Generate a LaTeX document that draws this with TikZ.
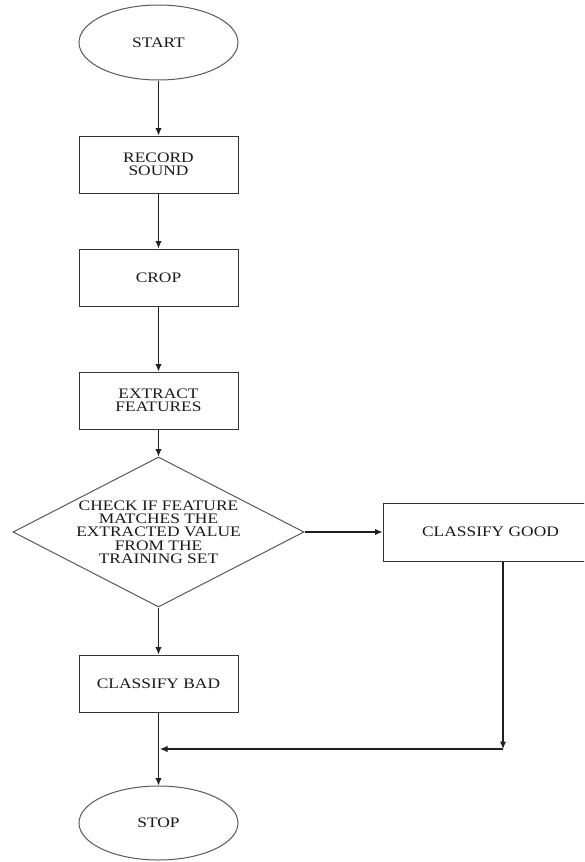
\documentclass[tikz,border=0pt]{standalone}
\usepackage{fontspec}
\setmainfont[FakeStretch=1.2]{Liberation Serif}
\usetikzlibrary{shapes.geometric,arrows.meta}
\newcommand{\flowtxt}{\fontsize{14.5}{13.3}\selectfont}
\begin{document}
\begin{tikzpicture}[x=1pt,y=-1pt,
  lineclr/.style={draw=black!80, line width=1pt},
  arr/.style={draw=black!88, line width=1.1pt, -{Latex[length=7.5pt,width=6.5pt]}},
  box/.style={rectangle, lineclr, minimum width=159pt, minimum height=57pt,
    inner sep=0pt, align=center, font=\flowtxt, text=black!90},
  term/.style={ellipse, lineclr, draw=black!65, minimum width=159pt,
    inner sep=0pt, align=center, font=\flowtxt, text=black!90},
  decision/.style={diamond, lineclr, draw=black!65, aspect=1.94, minimum width=291pt,
    minimum height=150pt, inner sep=0pt, align=center, font=\flowtxt, text=black!90}
]
\useasboundingbox (0,0) rectangle (584,862);
\clip (0,0) rectangle (584,862);
\fill[white] (0,0) rectangle (584,862);

\node[term, minimum height=75pt] (start) at (158.5,42.5) {START};
\node[box] (rec) at (158.5,164.5) {RECORD\\SOUND};
\node[box] (crop) at (158.5,277.5) {CROP};
\node[box] (ext) at (158.5,400.5) {EXTRACT\\FEATURES};
\node[decision] (dec) at (158.5,532) {CHECK IF FEATURE\\MATCHES THE\\EXTRACTED VALUE\\FROM THE\\TRAINING SET};
\node[box, minimum width=215pt, minimum height=58pt] (good) at (490.5,532) {CLASSIFY GOOD};
\node[box] (bad) at (158.5,683.5) {CLASSIFY BAD};
\node[term, minimum height=74pt] (stop) at (158.5,823) {STOP};
\coordinate (corner) at (503,749);

\draw[arr] (start) -- (rec);
\draw[arr] (rec) -- (crop);
\draw[arr] (crop) -- (ext);
\draw[arr] (ext) -- (dec);
\draw[arr] (dec) -- (good);
\draw[arr] (dec) -- (bad);
\draw[arr] (good.south -| corner) -- (corner);
\draw[arr, shorten >=1.5pt] (corner) -- (bad.south |- corner);
\draw[arr] (bad) -- (stop);
\end{tikzpicture}
\end{document}
